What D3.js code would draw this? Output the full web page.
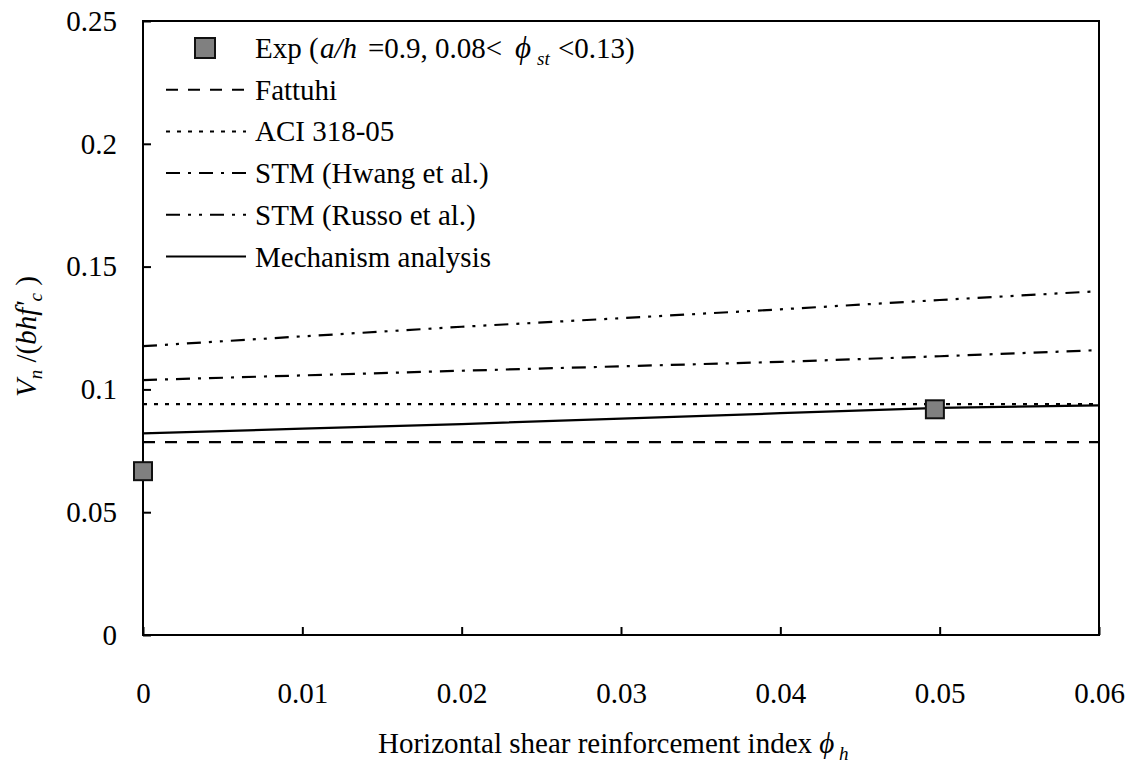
<!DOCTYPE html>
<html><head><meta charset="utf-8">
<script src="https://cdn.jsdelivr.net/npm/d3@7"></script>
<style>body{margin:0;background:#fff}svg{display:block}</style>
</head><body><svg id="c" width="1136" height="764" font-family="Liberation Serif"></svg>
<script>
const xTicks = [0, 0.01, 0.02, 0.03, 0.04, 0.05, 0.06];
const yTicks = [0, 0.05, 0.1, 0.15, 0.2, 0.25];
const phiH = [0, 0.01, 0.02, 0.03, 0.04, 0.05, 0.06];
const fattuhi = [0.0785, 0.0785, 0.0785, 0.0785, 0.0785, 0.0785, 0.0785];
const aci = [0.0940, 0.0940, 0.0940, 0.0940, 0.0940, 0.0940, 0.0940];
const hwang = [0.1038, 0.1057, 0.1076, 0.1094, 0.1112, 0.1135, 0.1160];
const russo = [0.1176, 0.1216, 0.1255, 0.1290, 0.1326, 0.1364, 0.1400];
const mechanism = [0.0821, 0.0840, 0.0859, 0.0881, 0.0903, 0.0925, 0.0935];
const expX = [0, 0.0497];
const expY = [0.0667, 0.0919];

const svg = d3.select("#c");
const L = 143, R = 1099, T = 21, B = 635;
const x = d3.scaleLinear().domain([0, 0.06]).range([L, R]);
const y = d3.scaleLinear().domain([0, 0.25]).range([B, T]);
const FS = 29, SUB = 19;
const SERIF = "Liberation Serif";

svg.append("rect").attr("x", L).attr("y", T).attr("width", R - L).attr("height", B - T)
  .attr("fill", "none").attr("stroke", "#000").attr("stroke-width", 2);

const gx = svg.append("g").attr("transform", `translate(0,${B})`)
  .call(d3.axisBottom(x).tickValues(xTicks).tickSize(-8).tickPadding(47).tickFormat(d => d3.format("")(d)));
gx.attr("font-family", SERIF).attr("font-size", FS);
gx.select(".domain").remove();
gx.selectAll("line").attr("stroke", "#000").attr("stroke-width", 2);
gx.selectAll("text").attr("fill", "#000").attr("font-family", SERIF);

const gy = svg.append("g").attr("transform", `translate(${L},0)`)
  .call(d3.axisLeft(y).tickValues(yTicks).tickSize(-8).tickPadding(26).tickFormat(d => d3.format("")(d)));
gy.attr("font-family", SERIF).attr("font-size", FS);
gy.select(".domain").remove();
gy.selectAll("line").attr("stroke", "#000").attr("stroke-width", 2);
gy.selectAll("text").attr("fill", "#000").attr("font-family", SERIF);

const series = [
  {name: "Fattuhi", vals: fattuhi, dash: "12,10"},
  {name: "ACI 318-05", vals: aci, dash: "4,7"},
  {name: "STM (Hwang et al.)", vals: hwang, dash: "14,8,3,8"},
  {name: "STM (Russo et al.)", vals: russo, dash: "14,8,3,8,3,8"},
  {name: "Mechanism analysis", vals: mechanism, dash: null}
];
const line = d3.line().x((d, i) => x(phiH[i])).y(d => y(d));
series.forEach(s => {
  svg.append("path").datum(s.vals).attr("d", line).attr("fill", "none")
    .attr("stroke", "#000").attr("stroke-width", 2.2)
    .attr("stroke-dasharray", s.dash);
});

const SQ = 18;
svg.selectAll("rect.exp").data(expX).enter().append("rect").attr("class", "exp")
  .attr("x", (d) => x(d) - SQ / 2).attr("y", (d, i) => y(expY[i]) - SQ / 2)
  .attr("width", SQ).attr("height", SQ).attr("fill", "#808080").attr("stroke", "#111").attr("stroke-width", 2);

const lgX0 = 166, lgX1 = 246, lgTX = 255, lgY0 = 48, lgDY = 41.7;
const lg = svg.append("g").attr("font-family", SERIF);
lg.append("rect").attr("x", 205 - 10).attr("y", lgY0 - 10).attr("width", 20).attr("height", 20)
  .attr("fill", "#808080").attr("stroke", "#111").attr("stroke-width", 2);
const t0 = lg.append("text").attr("x", lgTX).attr("y", lgY0 + 10).attr("font-size", FS).attr("font-family", SERIF);
t0.append("tspan").text("Exp (");
t0.append("tspan").attr("x", 320).attr("font-style", "italic").text("a/h");
t0.append("tspan").attr("x", 368).text("=0.9, 0.08<");
t0.append("tspan").attr("x", 515).attr("font-style", "italic").attr("font-size", 31).text("\u03d5");
t0.append("tspan").attr("x", 537).attr("font-style", "italic").attr("font-size", SUB).attr("dy", 7).text("st");
t0.append("tspan").attr("x", 558).attr("dy", -7).text("<0.13)");
series.forEach((s, i) => {
  const yy = lgY0 + lgDY * (i + 1);
  lg.append("line").attr("x1", lgX0).attr("x2", lgX1).attr("y1", yy).attr("y2", yy)
    .attr("stroke", "#000").attr("stroke-width", 2).attr("stroke-dasharray", s.dash);
  lg.append("text").attr("x", lgTX).attr("y", yy + 10).attr("font-size", FS).attr("font-family", SERIF).text(s.name);
});

const xt = svg.append("text").attr("x", 378).attr("y", 753).attr("font-size", FS).attr("font-family", SERIF);
xt.append("tspan").text("Horizontal shear reinforcement index ");
xt.append("tspan").attr("font-style", "italic").text("\u03d5");
xt.append("tspan").attr("font-style", "italic").attr("font-size", SUB).attr("dy", 7).text(" h");

const yt = svg.append("text").attr("transform", "translate(36,397) rotate(-90)").attr("font-size", FS).attr("font-family", SERIF);
yt.append("tspan").attr("font-style", "italic").text("V");
yt.append("tspan").attr("font-style", "italic").attr("font-size", SUB).attr("dy", 6).text("n");
yt.append("tspan").attr("dy", -6).text(" /(");
yt.append("tspan").attr("font-style", "italic").text("bhf'");
yt.append("tspan").attr("font-style", "italic").attr("font-size", SUB).attr("dy", 6).text("c");
yt.append("tspan").attr("dy", -6).text(" )");
</script></body></html>
